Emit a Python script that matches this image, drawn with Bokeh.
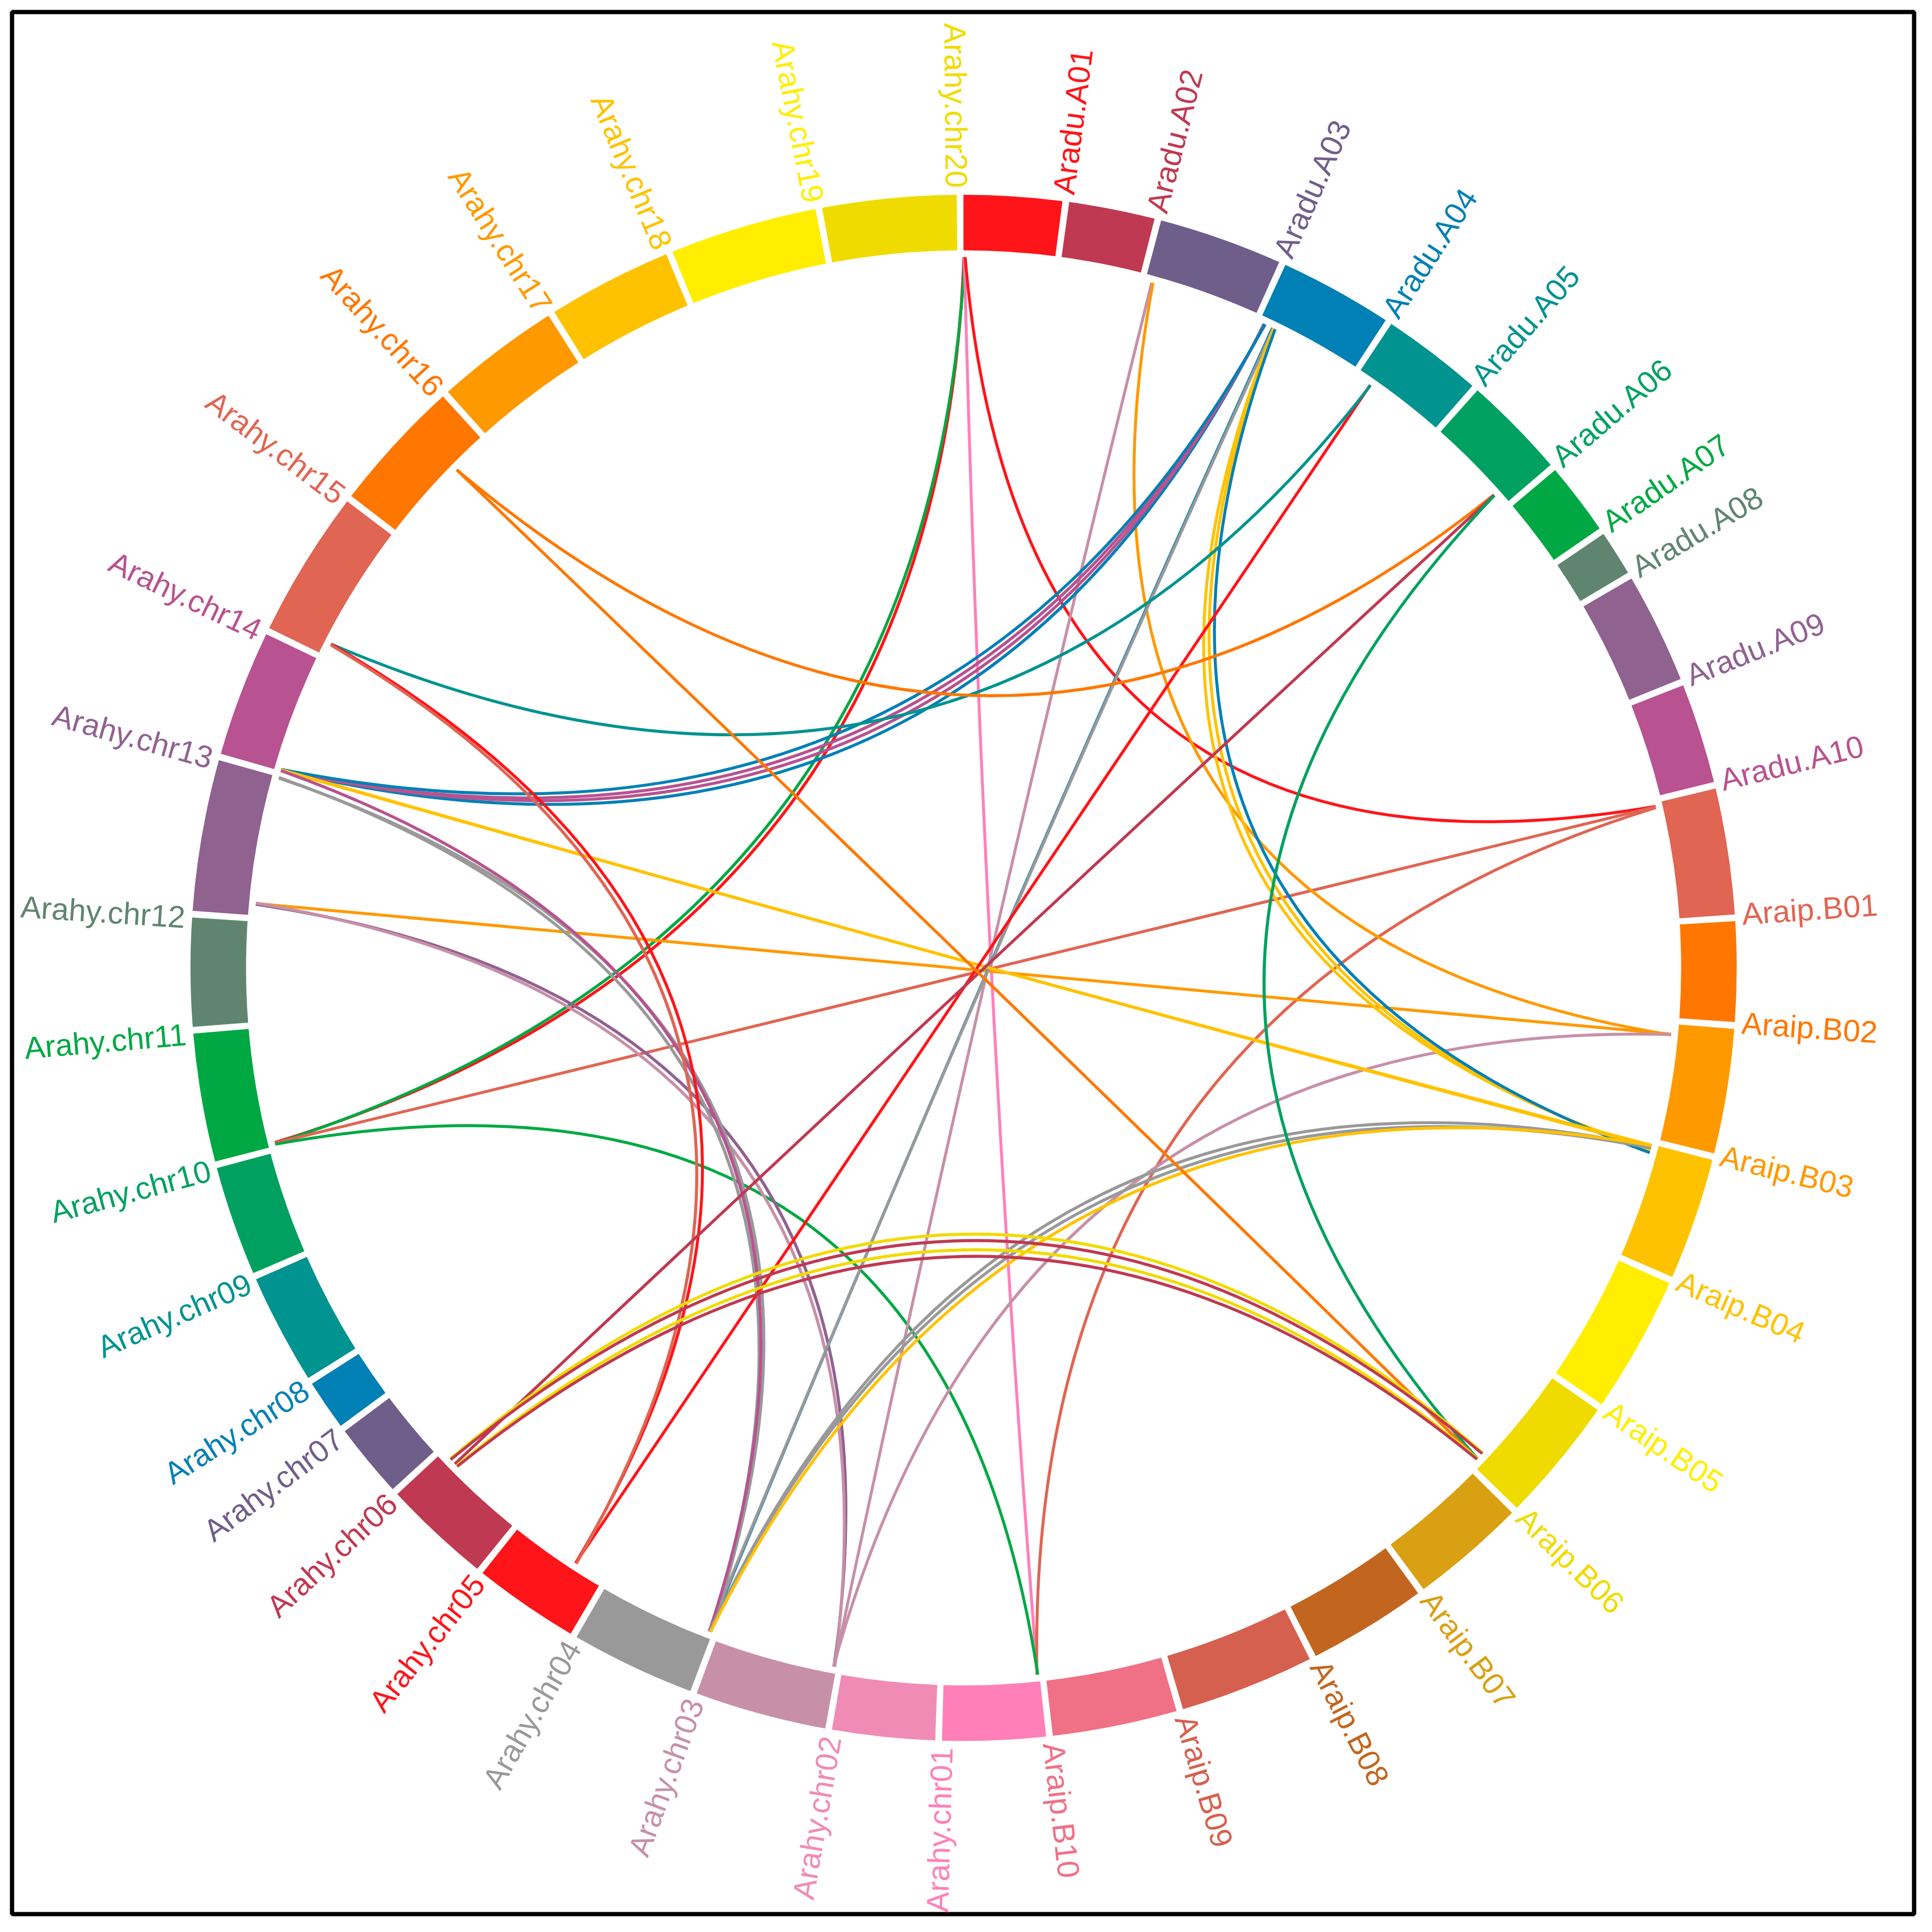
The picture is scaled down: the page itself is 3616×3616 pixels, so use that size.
import numpy as np
from bokeh.plotting import figure
from bokeh.models import Range1d, ColumnDataSource
from bokeh.embed import file_html
from bokeh.resources import INLINE
from bokeh.core.properties import value

# ---------------- data ----------------
chrom_names = ["Aradu.A01", "Aradu.A02", "Aradu.A03", "Aradu.A04", "Aradu.A05",
               "Aradu.A06", "Aradu.A07", "Aradu.A08", "Aradu.A09", "Aradu.A10",
               "Araip.B01", "Araip.B02", "Araip.B03", "Araip.B04", "Araip.B05",
               "Araip.B06", "Araip.B07", "Araip.B08", "Araip.B09", "Araip.B10",
               "Arahy.chr01", "Arahy.chr02", "Arahy.chr03", "Arahy.chr04", "Arahy.chr05",
               "Arahy.chr06", "Arahy.chr07", "Arahy.chr08", "Arahy.chr09", "Arahy.chr10",
               "Arahy.chr11", "Arahy.chr12", "Arahy.chr13", "Arahy.chr14", "Arahy.chr15",
               "Arahy.chr16", "Arahy.chr17", "Arahy.chr18", "Arahy.chr19", "Arahy.chr20"]

chrom_sizes_mb = [107.0, 93.9, 135.1, 123.6, 110.0, 112.8, 79.1, 49.5, 120.7, 109.5,
                  137.4, 108.9, 136.1, 133.6, 149.9, 137.2, 126.1, 129.6, 147.1, 136.1,
                  112.5, 112.0, 143.8, 136.0, 115.4, 118.0, 81.1, 55.0, 120.5, 120.0,
                  140.0, 118.0, 165.0, 138.0, 160.7, 146.0, 136.2, 136.0, 161.0, 146.0]

chrom_colors = ["#FF1419", "#BF3952", "#705E8A", "#0080B5", "#00938F",
                "#00A160", "#00A843", "#5F8570", "#906290", "#B85290",
                "#E06553", "#FF7700", "#FF9900", "#FFC200", "#FFEE00",
                "#F0DB00", "#DAA013", "#C2661F", "#D6604F", "#F07085",
                "#FF80B9", "#F08BB5", "#C790A8", "#999999", "#FF1419",
                "#BF3952", "#705E8A", "#0080B5", "#00938F", "#00A160",
                "#00A843", "#5F8570", "#906290", "#B85290", "#E06553",
                "#FF7700", "#FF9900", "#FFC200", "#FFEE00", "#F0DB00"]

link_from = ["Aradu.A01", "Aradu.A01", "Aradu.A01", "Aradu.A01", "Araip.B01", "Araip.B01", "Arahy.chr11",
             "Aradu.A03", "Aradu.A03", "Arahy.chr13", "Arahy.chr13", "Arahy.chr13", "Arahy.chr03",
             "Aradu.A04", "Aradu.A04", "Aradu.A04", "Aradu.A04", "Aradu.A04", "Aradu.A04",
             "Aradu.A04", "Aradu.A04", "Aradu.A04", "Arahy.chr14", "Arahy.chr14",
             "Arahy.chr13", "Arahy.chr13", "Arahy.chr14", "Arahy.chr04", "Arahy.chr04", "Arahy.chr04",
             "Aradu.A05", "Aradu.A05", "Arahy.chr15", "Arahy.chr15",
             "Aradu.A06", "Aradu.A06", "Aradu.A06", "Arahy.chr16",
             "Arahy.chr06", "Arahy.chr06", "Arahy.chr06", "Arahy.chr06"]
link_from_mb = [0.5, 1.5, 1.0, 2.0, 4.5, 5.5, 2.0,
                8.0, 9.5, 14.0, 13.0, 14.5, 3.5,
                6.0, 6.5, 7.0, 7.5, 17.0, 18.0,
                18.5, 19.5, 20.5, 1.0, 1.6,
                163.6, 164.4, 0.5, 3.0, 4.0, 2.5,
                19.0, 19.5, 15.0, 14.0,
                96.0, 96.5, 97.0, 100.0,
                106.0, 105.0, 95.0, 94.0]
link_to = ["Arahy.chr11", "Arahy.chr11", "Arahy.chr01", "Araip.B01", "Arahy.chr11", "Arahy.chr01", "Arahy.chr01",
           "Arahy.chr03", "Araip.B03", "Araip.B03", "Arahy.chr03", "Arahy.chr03", "Araip.B03",
           "Arahy.chr14", "Arahy.chr14", "Arahy.chr14", "Arahy.chr14", "Arahy.chr04", "Arahy.chr04",
           "Araip.B04", "Araip.B04", "Araip.B04", "Araip.B04", "Araip.B04",
           "Arahy.chr04", "Arahy.chr04", "Arahy.chr04", "Araip.B04", "Araip.B04", "Araip.B04",
           "Arahy.chr05", "Arahy.chr15", "Arahy.chr05", "Arahy.chr05",
           "Arahy.chr16", "Arahy.chr06", "Araip.B06", "Araip.B06",
           "Araip.B06", "Araip.B06", "Araip.B06", "Araip.B06"]
link_to_mb = [4.0, 3.0, 2.5, 4.0, 3.5, 3.0, 2.0,
              2.5, 13.0, 12.0, 3.0, 2.0, 12.5,
              1.0, 1.5, 0.5, 2.0, 3.5, 4.5,
              6.0, 8.0, 10.0, 1.0, 2.5,
              2.0, 3.0, 4.0, 3.0, 4.5, 1.5,
              37.0, 15.0, 37.0, 36.0,
              100.0, 98.0, 128.0, 128.5,
              119.0, 120.0, 128.0, 129.0]
link_colors = ["#FF1419", "#00A843", "#FF80B9", "#FF1419", "#E06553", "#E06553", "#00A843",
               "#C790A8", "#FF9900", "#FF9900", "#906290", "#C790A8", "#C790A8",
               "#0080B5", "#B85290", "#B85290", "#0080B5", "#0080B5", "#999999",
               "#FFC200", "#FFC200", "#0080B5", "#FFC200", "#FFC200",
               "#999999", "#999999", "#B85290", "#999999", "#999999", "#FFC200",
               "#FF1419", "#00938F", "#FF1419", "#E06553",
               "#FF7700", "#BF3952", "#00A160", "#FF7700",
               "#F0DB00", "#BF3952", "#F0DB00", "#BF3952"]

# ---------------- layout ----------------
W = 3600
CX, CY = 1811.0, 3616.0 - 1819.0
R_OUT, R_IN, R_LINK, R_LAB = 1447.0, 1343.0, 1330.0, 1460.0
CTRL_X, CTRL_Y = CX + 25.0, CY - 3.0
GAP = 0.5
ROT = -0.26
ALPHA = 0.125      # pull of the bezier control point towards the chord
ALPHA_STEP = 0.025  # fan-out of links sharing the same pair of chromosomes

n = len(chrom_names)
k = (360.0 - GAP * n) / sum(chrom_sizes_mb)
starts = []
a = ROT + GAP / 2.0
for s in chrom_sizes_mb:
    starts.append(a)
    a += s * k + GAP
ends = [st + s * k for st, s in zip(starts, chrom_sizes_mb)]
idx = {nm: i for i, nm in enumerate(chrom_names)}


def pt(theta_deg, r):
    t = np.radians(theta_deg)
    return CX + r * np.sin(t), CY + r * np.cos(t)


p = figure(width=W, height=W, x_range=Range1d(8, 8 + W), y_range=Range1d(8, 8 + W),
           output_backend="svg", toolbar_location=None, min_border=0)
p.axis.visible = False
p.grid.visible = False
p.outline_line_color = None
p.background_fill_color = "white"
p.border_fill_color = "white"

# frame
p.rect(x=[1810], y=[3616 - 1810], width=[3560], height=[3560],
       fill_color=None, line_color="black", line_width=8)

# chromosome ring
p.annular_wedge(x=[CX] * n, y=[CY] * n, inner_radius=R_IN, outer_radius=R_OUT,
                start_angle=[np.radians(90 - e) for e in ends],
                end_angle=[np.radians(90 - s) for s in starts],
                direction="anticlock", fill_color=chrom_colors, line_color=None)

# links (quadratic bezier)
pairs = [tuple(sorted((f, t))) for f, t in zip(link_from, link_to)]
pair_count = {pr: pairs.count(pr) for pr in set(pairs)}
seen = {}
x0, y0, x1, y1, cxs, cys = [], [], [], [], [], []
for c1, m1, c2, m2, pr in zip(link_from, link_from_mb, link_to, link_to_mb, pairs):
    j = seen.get(pr, 0)
    seen[pr] = j + 1
    al = ALPHA + ALPHA_STEP * (j - (pair_count[pr] - 1) / 2.0)
    t1 = starts[idx[c1]] + m1 * k
    t2 = starts[idx[c2]] + m2 * k
    a1 = pt(t1, R_LINK)
    a2 = pt(t2, R_LINK)
    x0.append(a1[0]); y0.append(a1[1]); x1.append(a2[0]); y1.append(a2[1])
    mx = (a1[0] + a2[0]) / 2.0 - CX
    my = (a1[1] + a2[1]) / 2.0 - CY
    cxs.append(CTRL_X + al * mx)
    cys.append(CTRL_Y + al * my)
p.quadratic(x0=x0, y0=y0, x1=x1, y1=y1, cx=cxs, cy=cys,
            line_color=link_colors, line_width=5.5)

# labels
lx, ly, lang, lalign = [], [], [], []
for e in ends:
    x, y = pt(e, R_LAB)
    lx.append(x); ly.append(y)
    if e < 180:
        lang.append(np.radians(90 - e)); lalign.append("left")
    else:
        lang.append(np.radians(270 - e)); lalign.append("right")
src = ColumnDataSource(dict(x=lx, y=ly, text=chrom_names, angle=lang, align=lalign, color=chrom_colors))
p.text(x="x", y="y", text="text", angle="angle", text_align="align", text_baseline="alphabetic",
       text_color="color", text_font=value("Liberation Sans"), text_font_size="58px", source=src)

open("out.html", "w").write(file_html(p, INLINE))
